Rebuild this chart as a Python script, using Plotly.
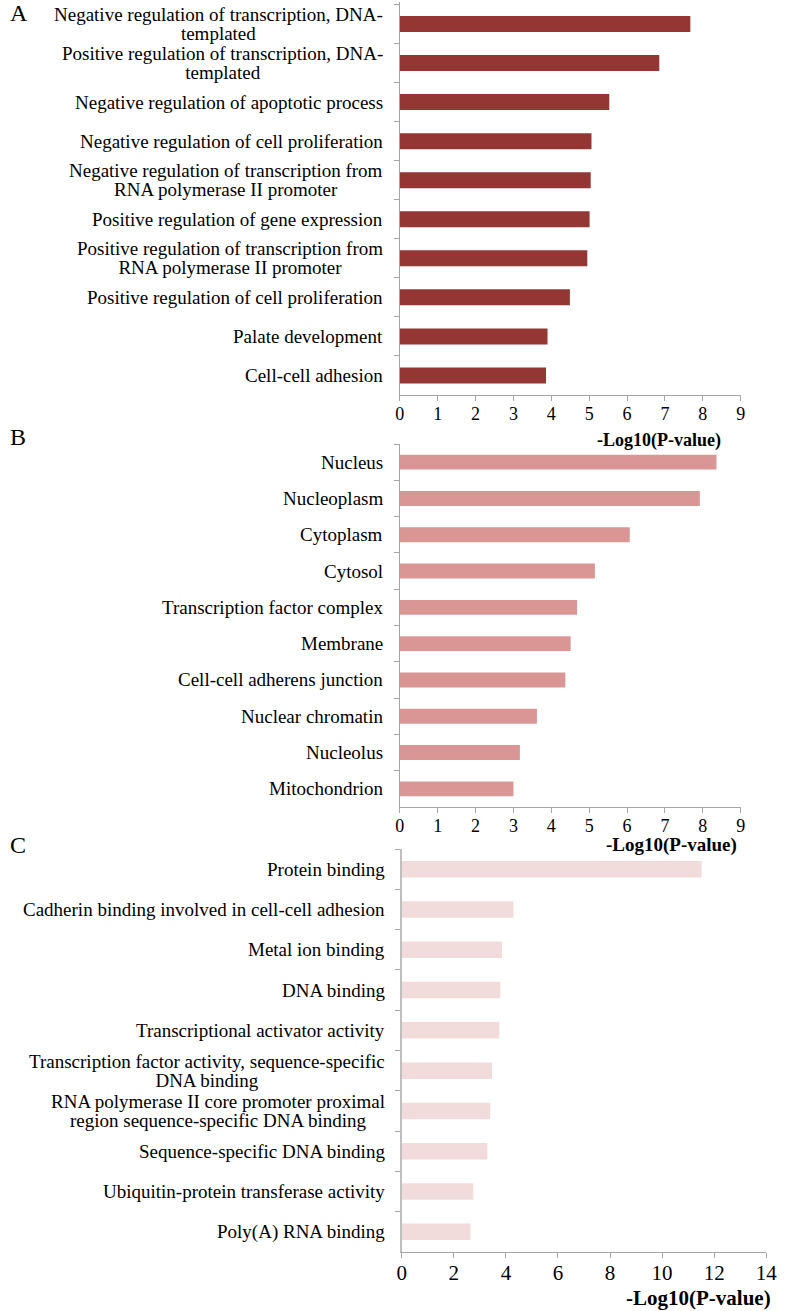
import plotly.graph_objects as go

# Panel A - biological process
bp_terms = ["Negative regulation of transcription, DNA-<br>templated",
            "Positive regulation of transcription, DNA-<br>templated",
            "Negative regulation of apoptotic process",
            "Negative regulation of cell proliferation",
            "Negative regulation of transcription from<br>RNA polymerase II promoter",
            "Positive regulation of gene expression",
            "Positive regulation of transcription from<br>RNA polymerase II promoter",
            "Positive regulation of cell proliferation",
            "Palate development",
            "Cell-cell adhesion"]
bp_values = [7.67, 6.85, 5.53, 5.06, 5.04, 5.01, 4.95, 4.49, 3.90, 3.86]

# Panel B - cellular component
cc_terms = ["Nucleus", "Nucleoplasm", "Cytoplasm", "Cytosol",
            "Transcription factor complex", "Membrane",
            "Cell-cell adherens junction", "Nuclear chromatin",
            "Nucleolus", "Mitochondrion"]
cc_values = [8.36, 7.92, 6.07, 5.15, 4.68, 4.51, 4.37, 3.62, 3.17, 3.00]

# Panel C - molecular function
mf_terms = ["Protein binding",
            "Cadherin binding involved in cell-cell adhesion",
            "Metal ion binding",
            "DNA binding",
            "Transcriptional activator activity",
            "Transcription factor activity, sequence-specific<br>DNA binding",
            "RNA polymerase II core promoter proximal<br>region sequence-specific DNA binding",
            "Sequence-specific DNA binding",
            "Ubiquitin-protein transferase activity",
            "Poly(A) RNA binding"]
mf_values = [11.52, 4.29, 3.85, 3.79, 3.75, 3.47, 3.40, 3.29, 2.75, 2.64]

W, H = 787, 1311
FONT = "Liberation Serif, Times New Roman, serif"
GREY = "#A6A6A6"
LABEL_PX = 19

panels = [
    dict(terms=bp_terms, values=bp_values, color="#943634", xd=(403, 751), yd=(2, 395),
         xmax=9, dtick=1, letter="A", letter_y=13, title=(733, 440), tsize=18, ticksize=18, lw=1),
    dict(terms=cc_terms, values=cc_values, color="#D99694", xd=(403, 751), yd=(444, 807),
         xmax=9, dtick=1, letter="B", letter_y=437, title=(749, 845), tsize=19, ticksize=18, lw=1),
    dict(terms=mf_terms, values=mf_values, color="#F2DCDB", xd=(405, 777), yd=(849, 1252),
         xmax=14, dtick=2, letter="C", letter_y=845, title=(784, 1298), tsize=21, ticksize=21, lw=2),
]


def label_text(term):
    # each line in its own span so the line spacing follows the smaller base font
    return "<br>".join('<span style="font-size:%dpx">%s</span>' % (LABEL_PX, ln)
                       for ln in term.split("<br>"))


fig = go.Figure()
annotations = []
layout_axes = {}

for i, p in enumerate(panels, start=1):
    sfx = "" if i == 1 else str(i)
    fig.add_trace(go.Bar(
        x=p["values"], y=p["terms"], orientation="h",
        marker=dict(color=p["color"], line=dict(width=0)),
        xaxis="x" + sfx, yaxis="y" + sfx, showlegend=False,
    ))
    layout_axes["xaxis" + sfx] = dict(
        domain=[p["xd"][0] / W, p["xd"][1] / W], anchor="y" + sfx,
        range=[0, p["xmax"]], dtick=p["dtick"], tick0=0,
        showgrid=False, zeroline=False, showline=True, linecolor=GREY, linewidth=1,
        ticks="outside", ticklen=5, tickcolor=GREY, ticklabelstandoff=-3,
        tickfont=dict(family=FONT, size=p["ticksize"], color="black"),
    )
    layout_axes["yaxis" + sfx] = dict(
        domain=[1 - p["yd"][1] / H, 1 - p["yd"][0] / H], anchor="x" + sfx,
        type="category", categoryorder="array", categoryarray=p["terms"],
        autorange="reversed", showticklabels=False, tickson="boundaries",
        ticks="outside", ticklen=5, tickcolor=GREY,
        showgrid=False, zeroline=False, showline=True,
        linecolor="#BFBFBF" if p["lw"] > 1 else GREY, linewidth=p["lw"],
    )
    for term in p["terms"]:
        annotations.append(dict(
            x=0, xref="x%s domain" % sfx, y=term, yref="y" + sfx,
            text=label_text(term), showarrow=False, xanchor="right", yanchor="middle",
            align="center", xshift=-15,
            font=dict(family=FONT, size=14.6, color="black"),
        ))
    annotations.append(dict(
        x=p["title"][0] / W, xref="paper", y=1 - p["title"][1] / H, yref="paper",
        text="<b>-Log10(P-value)</b>", showarrow=False, xanchor="right", yanchor="middle",
        font=dict(family=FONT, size=p["tsize"], color="black"),
    ))
    annotations.append(dict(
        x=3 / W, xref="paper", y=1 - p["letter_y"] / H, yref="paper",
        text=p["letter"], showarrow=False, xanchor="left", yanchor="middle",
        font=dict(family=FONT, size=24, color="black"),
    ))

fig.update_layout(
    width=W, height=H,
    margin=dict(l=0, r=0, t=0, b=0),
    paper_bgcolor="white", plot_bgcolor="white",
    bargap=0.59,
    annotations=annotations,
    **layout_axes,
)

# drop the default page margin so the figure sits flush in the window
fig.write_html("out.html", config={"displayModeBar": False},
               post_script="document.body.style.margin='0';")
